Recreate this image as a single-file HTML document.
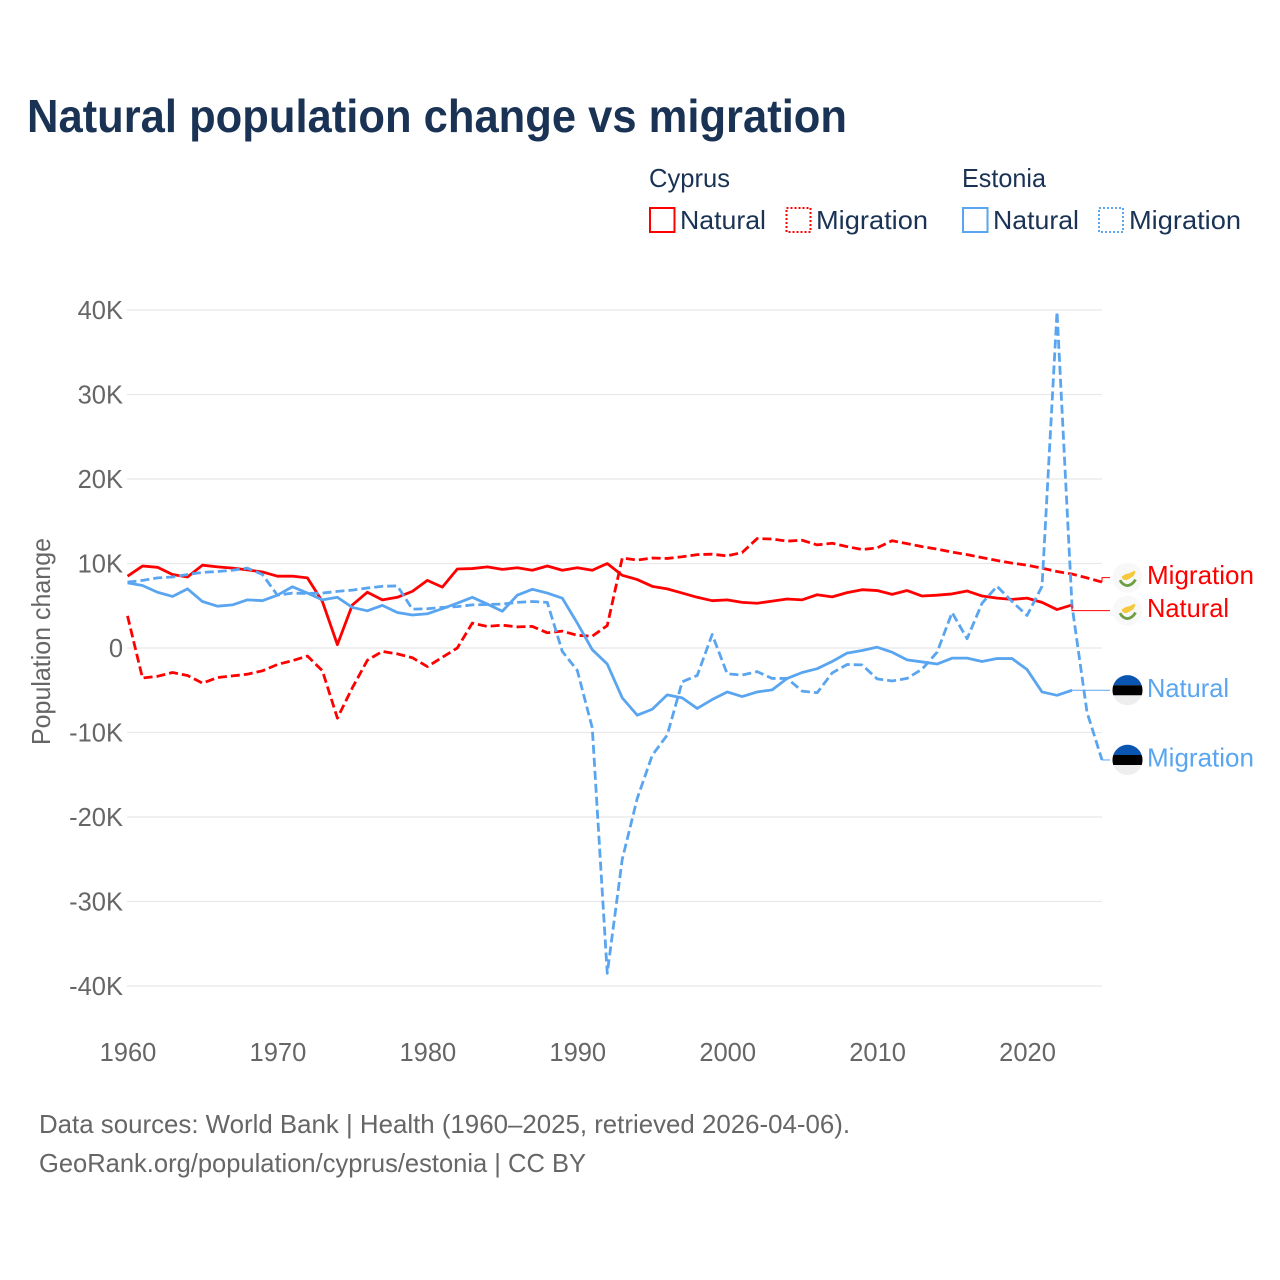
<!DOCTYPE html>
<html lang="en">
<head>
<meta charset="utf-8">
<title>Natural population change vs migration</title>
<style>
html,body{margin:0;padding:0;background:#fff;width:1280px;height:1280px;overflow:hidden}
svg{display:block;font-family:"Liberation Sans",sans-serif}
</style>
</head>
<body>
<svg id="chart" xmlns="http://www.w3.org/2000/svg" width="1280" height="1280" viewBox="0 0 1280 1280">
  <rect width="1280" height="1280" fill="#ffffff"/>
  <text x="27" y="132" font-size="46" font-weight="700" fill="#1a3355" textLength="820" lengthAdjust="spacingAndGlyphs">Natural population change vs migration</text>

  <g font-size="26" fill="#1a3355">
    <text x="649" y="187" textLength="81" lengthAdjust="spacingAndGlyphs">Cyprus</text>
    <text x="962" y="187" textLength="84" lengthAdjust="spacingAndGlyphs">Estonia</text>
    <g>
      <rect x="650" y="208" width="24.5" height="24" fill="none" stroke="#ff0000" stroke-width="2"/>
      <text x="680" y="229" textLength="86" lengthAdjust="spacingAndGlyphs">Natural</text>
    </g>
    <g>
      <rect x="786.5" y="208" width="24" height="24" fill="none" stroke="#ff0000" stroke-width="2" stroke-dasharray="2 2"/>
      <text x="816" y="229" textLength="112" lengthAdjust="spacingAndGlyphs">Migration</text>
    </g>
    <g>
      <rect x="963" y="208" width="24.5" height="24" fill="none" stroke="#5aa5ef" stroke-width="2"/>
      <text x="993" y="229" textLength="86" lengthAdjust="spacingAndGlyphs">Natural</text>
    </g>
    <g>
      <rect x="1099" y="208" width="24" height="24" fill="none" stroke="#5aa5ef" stroke-width="2" stroke-dasharray="2 2"/>
      <text x="1129" y="229" textLength="112" lengthAdjust="spacingAndGlyphs">Migration</text>
    </g>
  </g>

  <g id="grid"></g>
  <g id="yticks" font-size="25.5" fill="#666666" text-anchor="end"></g>
  <g id="xticks" font-size="25.5" fill="#666666" text-anchor="middle"></g>
  <text transform="translate(50,641.5) rotate(-90)" text-anchor="middle" font-size="26" fill="#666666" textLength="207" lengthAdjust="spacingAndGlyphs">Population change</text>
  <g id="series"></g>
  <g id="leaders"></g>
  <g id="endlabels" font-size="26"></g>

  <text x="39" y="1133" font-size="26" fill="#666666" textLength="811" lengthAdjust="spacingAndGlyphs">Data sources: World Bank | Health (1960–2025, retrieved 2026-04-06).</text>
  <text x="39" y="1172" font-size="26" fill="#666666" textLength="547" lengthAdjust="spacingAndGlyphs">GeoRank.org/population/cyprus/estonia | CC BY</text>
</svg>
<script>
const yTickValues = [40, 30, 20, 10, 0, -10, -20, -30, -40];
const yTickLabels = ['40K', '30K', '20K', '10K', '0', '-10K', '-20K', '-30K', '-40K'];
const xTickValues = [1960, 1970, 1980, 1990, 2000, 2010, 2020];
const xTickLabels = ['1960', '1970', '1980', '1990', '2000', '2010', '2020'];
const firstYear = 1960;
const lastYear = 2025;

const cyprusNatural = [8.5, 9.7, 9.55, 8.7, 8.4, 9.8, 9.6, 9.45, 9.25, 9.0,
  8.5, 8.5, 8.3, 5.5, 0.4, 5.1, 6.6, 5.7, 6.0, 6.7,
  8.0, 7.2, 9.35, 9.4, 9.6, 9.3, 9.5, 9.2, 9.7, 9.2,
  9.5, 9.2, 10.0, 8.6, 8.1, 7.3, 7.0, 6.5, 6.0, 5.6,
  5.7, 5.4, 5.3, 5.55, 5.8, 5.7, 6.3, 6.05, 6.55, 6.9,
  6.8, 6.35, 6.8, 6.15, 6.25, 6.4, 6.75, 6.15, 5.9, 5.75,
  5.9, 5.4, 4.55, 5.1];
const cyprusMigration = [3.8, -3.55, -3.35, -2.9, -3.25, -4.15, -3.5, -3.3, -3.1, -2.7,
  -1.95, -1.5, -0.95, -2.7, -8.3, -4.7, -1.45, -0.4, -0.7, -1.15,
  -2.2, -1.1, 0, 2.95, 2.55, 2.7, 2.5, 2.55, 1.8, 2.0,
  1.5, 1.4, 2.65, 10.65, 10.4, 10.65, 10.6, 10.8, 11.05, 11.1,
  10.9, 11.3, 12.95, 12.9, 12.65, 12.75, 12.2, 12.4, 12.0, 11.65,
  11.85, 12.7, 12.35, 12.0, 11.7, 11.35, 11.05, 10.7, 10.35, 10.05,
  9.8, 9.45, 9.05, 8.75, 8.3, 7.8];
const estoniaNatural = [7.7, 7.4, 6.6, 6.1, 7.0, 5.5, 4.95, 5.1, 5.7, 5.6,
  6.25, 7.25, 6.5, 5.7, 6.0, 4.8, 4.4, 5.05, 4.2, 3.9,
  4.05, 4.65, 5.3, 6.0, 5.2, 4.35, 6.25, 6.95, 6.5, 5.9,
  2.95, -0.2, -1.9, -5.9, -7.95, -7.25, -5.55, -5.9, -7.15, -6.1,
  -5.2, -5.75, -5.2, -4.95, -3.6, -2.9, -2.45, -1.6, -0.6, -0.3,
  0.1, -0.5, -1.4, -1.65, -1.9, -1.2, -1.2, -1.6, -1.25, -1.25,
  -2.55, -5.2, -5.6, -5.0];
const estoniaMigration = [7.8, 8.0, 8.3, 8.4, 8.7, 8.95, 9.05, 9.2, 9.45, 8.7,
  6.25, 6.5, 6.45, 6.5, 6.7, 6.85, 7.1, 7.3, 7.35, 4.6,
  4.65, 4.8, 4.9, 5.1, 5.15, 5.2, 5.4, 5.5, 5.4, -0.4,
  -2.65, -9.45, -38.5, -25.0, -17.8, -12.7, -10.3, -4.0, -3.25, 1.6,
  -3.05, -3.2, -2.8, -3.6, -3.6, -5.1, -5.3, -2.95, -1.95, -2.0,
  -3.65, -3.9, -3.6, -2.5, -0.5, 4.2, 1.1, 5.3, 7.3, 5.5,
  3.85, 7.3, 39.8, 5.0, -7.6, -13.25];

const endLabelText = ['Migration', 'Natural', 'Natural', 'Migration'];

const NS = 'http://www.w3.org/2000/svg';
const RED = '#ff0000';
const BLUE = '#5aa5ef';

function xScale(year) {
  return 127.5 + (year - firstYear) * (1102 - 127.5) / (lastYear - firstYear);
}
function yScale(value) {
  return 648 - value * 8.45;
}
function make(tag, parent, attrs) {
  const el = document.createElementNS(NS, tag);
  for (const k in attrs) el.setAttribute(k, attrs[k]);
  parent.appendChild(el);
  return el;
}

const gridG = document.getElementById('grid');
const yG = document.getElementById('yticks');
const xG = document.getElementById('xticks');
yTickValues.forEach(function (v, i) {
  const line = make('line', gridG, { x1: 127, x2: 1102, y1: yScale(v), y2: yScale(v), stroke: '#e8e8e8', 'stroke-width': 1.3 });
  
  
  const t = make('text', yG, { x: 123, y: yScale(v) + 9 });
  
  
  t.textContent = yTickLabels[i];
});
xTickValues.forEach(function (v, i) {
  const t = make('text', xG, { x: xScale(v) + 0.5, y: 1061 });
  
  
  t.textContent = xTickLabels[i];
});

const seriesG = document.getElementById('series');
function drawLine(values, color, dash, name) {
  const pts = values.map(function (v, i) {
    return xScale(firstYear + i).toFixed(2) + ',' + yScale(v).toFixed(2);
  }).join(' ');
  const p = make('polyline', seriesG, { points: pts, fill: 'none', stroke: color, 'stroke-width': 2.8, 'stroke-linejoin': 'round' });
  if (dash) p.setAttribute('stroke-dasharray', dash);
  
  
}
drawLine(cyprusNatural, RED, null, 'line-cyprus-natural');
drawLine(cyprusMigration, RED, '9 4', 'line-cyprus-migration');
drawLine(estoniaNatural, BLUE, null, 'line-estonia-natural');
drawLine(estoniaMigration, BLUE, '9 4', 'line-estonia-migration');

const leadersG = document.getElementById('leaders');
const labelsG = document.getElementById('endlabels');
function endYear(values) { return firstYear + values.length - 1; }
function lastVal(values) { return values[values.length - 1]; }

function cyprusFlag(parent, cx, cy) {
  const g = make('g', parent, { transform: 'translate(' + cx + ',' + cy + ')' });
  
  
  make('circle', g, { r: 15, fill: '#f8f8f8' });
  make('path', g, { d: 'M-6 -1 L-2 -3.5 L2 -4.5 L7 -7 L8 -5.5 L6 -1.5 L2 1 L-1 2.5 L-4.5 2 Z', fill: '#f6c83c' });
  make('path', g, { d: 'M-7.5 2.5 Q-5 7.5 0 8 Q5 7.5 8 2', fill: 'none', stroke: '#6f9f45', 'stroke-width': 2.8 });
}
function estoniaFlag(parent, cx, cy) {
  const g = make('g', parent, { transform: 'translate(' + cx + ',' + cy + ')' });
  
  
  make('circle', g, { r: 15, fill: '#eeeeee' });
  make('path', g, { d: 'M-14.2 -5 A15 15 0 0 1 14.2 -5 Z', fill: '#0a55b0' });
  make('path', g, { d: 'M-14.2 -5 H14.2 A15 15 0 0 1 15 0 A15 15 0 0 1 14.2 5 H-14.2 A15 15 0 0 1 -15 0 A15 15 0 0 1 -14.2 -5 Z', fill: '#000000' });
}

function drawEnd(values, color, labelIdx, flagFn, offset, name) {
  const x0 = xScale(endYear(values));
  const y0 = yScale(lastVal(values));
  const y1 = y0 + offset;
  const d = 'M' + x0 + ' ' + y0 + ' V' + y1 + ' H1110';
  const leader = make('path', leadersG, { d: d, fill: 'none', stroke: color, 'stroke-width': 1 });
  
  
  flagFn(labelsG, 1127.5, y1);
  const text = endLabelText[labelIdx];
  const t = make('text', labelsG, { x: 1147, y: y1 + 6.5, fill: color, textLength: text === 'Natural' ? 82 : 107, lengthAdjust: 'spacingAndGlyphs' });
  
  
  t.textContent = text;
}
drawEnd(cyprusMigration, RED, 0, cyprusFlag, -4.5, 'cyprus-migration');
drawEnd(cyprusNatural, RED, 1, cyprusFlag, 5.7, 'cyprus-natural');
drawEnd(estoniaNatural, BLUE, 2, estoniaFlag, 0, 'estonia-natural');
drawEnd(estoniaMigration, BLUE, 3, estoniaFlag, 0, 'estonia-migration');
</script>
</body>
</html>
